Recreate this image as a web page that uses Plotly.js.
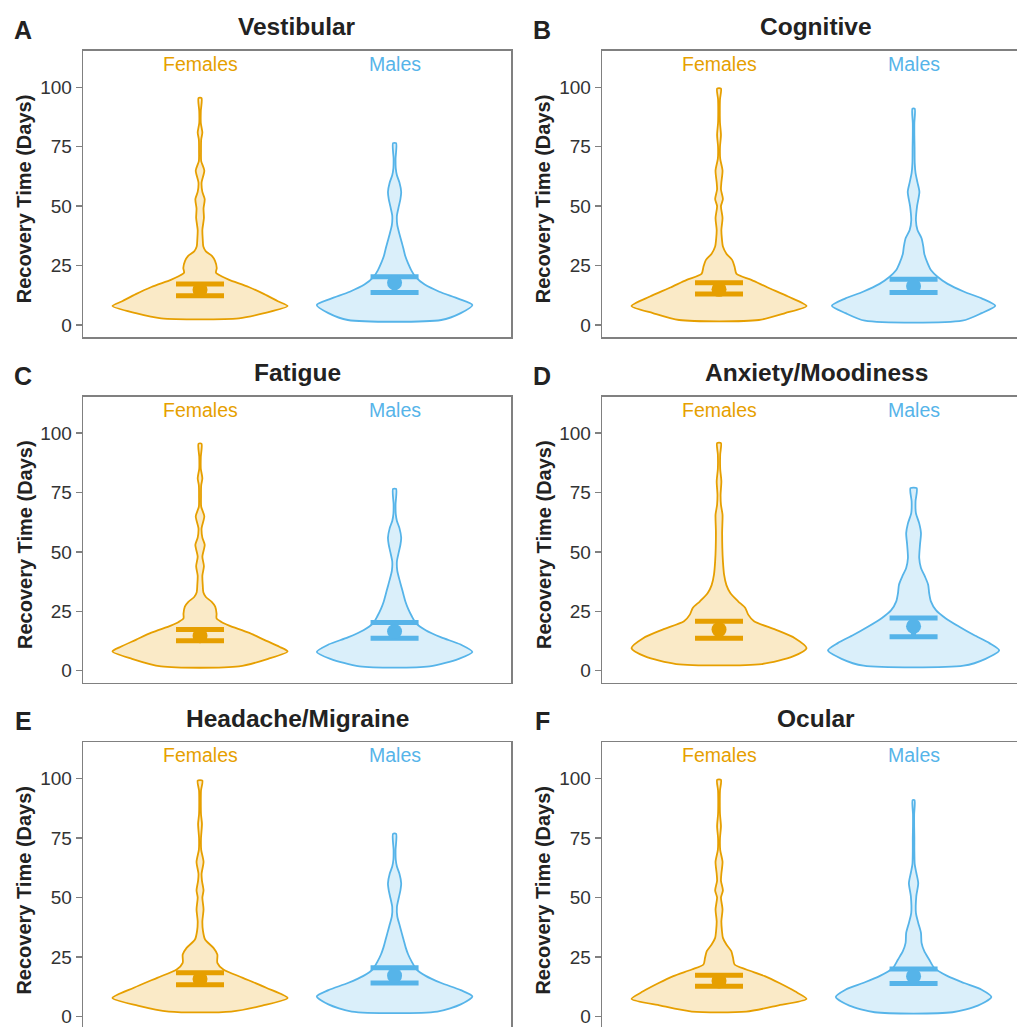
<!DOCTYPE html>
<html>
<head>
<meta charset="utf-8">
<script src="https://cdn.plot.ly/plotly-3.0.1.min.js"></script>
<style>
html,body{margin:0;padding:0;overflow:hidden;background:#fff;}
#chart{width:1035px;height:1035px;}
</style>
</head>
<body>
<div id="chart"></div>
<script>
// ---------- data ----------
const panelTitles = ["Vestibular","Cognitive","Fatigue","Anxiety/Moodiness","Headache/Migraine","Ocular"];
const panelLetters = ["A","B","C","D","E","F"];
const groups = ["Females","Males"];
const yTicks = [0,25,50,75,100];

// violin profiles: recovery days (y) and half-width of density (w, in category units)
const vestibular_f_y = [2.8,5,8,10,13,16,19,20.5,22,24,27,29,31,33,36,40,45,49,53,56,60,65,69,73,78,81,85,90,95.5];
const vestibular_f_w = [0.20,0.33,0.45,0.40,0.33,0.25,0.15,0.11,0.082,0.086,0.077,0.062,0.03,0.017,0.014,0.012,0.02,0.018,0.024,0.012,0.008,0.022,0.006,0.005,0.006,0.012,0.004,0.004,0.008];
const vestibular_m_y = [2.1,5,8.4,11,14,17,20,23,26,29,32,35,38,42,46,50,53,56,60,63,66,70,76.5];
const vestibular_m_w = [0.24,0.34,0.40,0.33,0.23,0.155,0.11,0.086,0.069,0.055,0.046,0.036,0.026,0.014,0.012,0.022,0.03,0.034,0.025,0.012,0.006,0.005,0.008];

const cognitive_f_y = [2.1,5,8,12,15.8,19,21.5,24.5,27.3,30,33,36,40,45,50,53,57,60,65,70,75,80,85,90,95,99.5];
const cognitive_f_w = [0.205,0.34,0.45,0.355,0.25,0.166,0.09,0.08,0.068,0.038,0.02,0.015,0.012,0.018,0.01,0.02,0.01,0.012,0.018,0.006,0.005,0.01,0.005,0.004,0.005,0.01];
const cognitive_m_y = [1.8,5,8.1,11.2,14,17.3,20.3,23,26,30,33,36.5,40,44,50,56,60,64,68,75,80,85,91];
const cognitive_m_w = [0.25,0.35,0.42,0.35,0.26,0.175,0.123,0.09,0.072,0.055,0.05,0.041,0.02,0.012,0.018,0.03,0.02,0.01,0.006,0.005,0.004,0.004,0.006];

const fatigue_f_y = [1.8,5,8.1,10,13,16,19,20.5,22,24,27,29,31,33,36,40,44,48,53,56,60,65,69,73,78,81,85,90,95.5];
const fatigue_f_w = [0.20,0.35,0.45,0.41,0.33,0.25,0.15,0.11,0.085,0.085,0.078,0.06,0.03,0.017,0.014,0.012,0.02,0.012,0.024,0.012,0.008,0.022,0.006,0.005,0.006,0.012,0.004,0.004,0.008];
const fatigue_m_y = [1.8,5,7.9,11,14,17,20,23,26,29,32,35,38,42,46,50,53,56,60,63,66,70,76.5];
const fatigue_m_w = [0.18,0.33,0.40,0.34,0.24,0.16,0.11,0.088,0.07,0.056,0.046,0.036,0.026,0.014,0.012,0.022,0.03,0.034,0.025,0.012,0.006,0.005,0.008];

const anxiety_f_y = [2.8,6,9.5,13.7,17.3,20.8,23.6,26.4,29.2,32.7,36,40.4,46,51.6,58.6,65.6,69.8,74,79.7,85,91,95.8];
const anxiety_f_w = [0.22,0.38,0.45,0.39,0.29,0.18,0.15,0.135,0.098,0.058,0.038,0.026,0.02,0.017,0.016,0.018,0.01,0.008,0.012,0.006,0.006,0.01];
const anxiety_m_y = [2.1,5,8.6,11.6,15,18.5,22,25.5,29.2,32.7,36.2,39.7,43.2,47.4,53,57.9,62,66.3,71.2,76.8];
const anxiety_m_w = [0.257,0.37,0.44,0.39,0.31,0.235,0.166,0.115,0.089,0.08,0.075,0.058,0.038,0.029,0.033,0.038,0.029,0.012,0.01,0.016];

const headache_f_y = [2,4.5,7.7,12,16.2,19.7,22.5,26,28.8,32.3,36,40,45,50,53,57,60,65,70,75,81,85,90,95,99.2];
const headache_f_w = [0.16,0.32,0.45,0.34,0.22,0.12,0.089,0.089,0.069,0.026,0.015,0.012,0.018,0.012,0.018,0.01,0.008,0.018,0.006,0.005,0.01,0.005,0.004,0.005,0.012];
const headache_m_y = [2,5,8.4,11,14,17,20,23,26,29,32,35,38,42,46,50,53,56,60,63,66,70,76.8];
const headache_m_w = [0.22,0.34,0.40,0.34,0.24,0.16,0.11,0.088,0.07,0.057,0.047,0.037,0.027,0.014,0.012,0.022,0.03,0.034,0.025,0.012,0.006,0.005,0.008];

const ocular_f_y = [2,4.5,7.3,10.5,14,16.9,19.7,21.8,24.6,27.4,30.2,33,36,40,45,50,53,57,60,65,70,75,80,85,90,95,99.5];
const ocular_f_w = [0.14,0.30,0.45,0.39,0.31,0.235,0.14,0.08,0.072,0.063,0.038,0.02,0.015,0.012,0.018,0.01,0.02,0.01,0.012,0.018,0.006,0.005,0.01,0.005,0.004,0.005,0.01];
const ocular_m_y = [1.7,4.5,8.1,11.2,14,16.9,20.4,23.9,27.4,30.9,35.1,39.3,43.5,50.6,56,60.4,63.9,70,75,80,85,91];
const ocular_m_w = [0.2,0.33,0.40,0.35,0.26,0.175,0.106,0.08,0.055,0.041,0.038,0.024,0.012,0.014,0.024,0.014,0.006,0.004,0.004,0.003,0.003,0.005];

// mean and 95% CI per panel
const female_mean = [14.8,15.0,14.7,17.3,15.7,14.9];
const female_lo   = [12.3,13.0,12.6,13.7,13.3,12.6];
const female_hi   = [17.25,17.8,17.3,20.8,18.3,17.3];
const male_mean   = [17.8,16.4,16.5,18.7,17.1,16.9];
const male_lo     = [13.7,13.7,13.7,14.3,14.0,13.8];
const male_hi     = [20.3,19.2,20.3,22.2,20.4,19.9];

const profiles = [
  [[vestibular_f_y,vestibular_f_w],[vestibular_m_y,vestibular_m_w]],
  [[cognitive_f_y,cognitive_f_w],[cognitive_m_y,cognitive_m_w]],
  [[fatigue_f_y,fatigue_f_w],[fatigue_m_y,fatigue_m_w]],
  [[anxiety_f_y,anxiety_f_w],[anxiety_m_y,anxiety_m_w]],
  [[headache_f_y,headache_f_w],[headache_m_y,headache_m_w]],
  [[ocular_f_y,ocular_f_w],[ocular_m_y,ocular_m_w]]
];
const stats = [[female_mean,female_lo,female_hi],[male_mean,male_lo,male_hi]];

// ---------- styling / layout ----------
const W = 1035, H = 1035;
const FONT = '"Liberation Sans", Arial, Helvetica, sans-serif';
const lineCol = ['#E69F00','#56B4E9'];
const fillCol = ['rgba(230,159,0,0.22)','rgba(86,180,233,0.22)'];
const colLeft = [83.3, 602.3];
const rowTop = [51, 396.7, 742.3];
const boxW = 428, boxH = 286;
const yRange = [-5.05, 115.3];

const traces = [];
const layout = {
  width: W, height: H,
  margin: {l:0, r:0, t:0, b:0},
  paper_bgcolor: '#ffffff', plot_bgcolor: '#ffffff',
  showlegend: false,
  font: {family: FONT, color: '#333'},
  annotations: []
};

for (let p = 0; p < 6; p++) {
  const col = p % 2, row = Math.floor(p / 2);
  const L = colLeft[col], T = rowTop[row];
  const xa = 'x' + (p === 0 ? '' : p + 1), ya = 'y' + (p === 0 ? '' : p + 1);
  const xk = 'xaxis' + (p === 0 ? '' : p + 1), yk = 'yaxis' + (p === 0 ? '' : p + 1);

  layout[xk] = {
    domain: [L / W, (L + boxW) / W], range: [0.4, 2.6], anchor: ya,
    showgrid: false, zeroline: false, showticklabels: false, ticks: '',
    showline: true, mirror: true, linecolor: '#808080', linewidth: 1.6, fixedrange: true
  };
  layout[yk] = {
    domain: [1 - (T + boxH) / H, 1 - T / H], range: yRange, anchor: xa,
    tickvals: yTicks, ticktext: yTicks.map(String),
    showgrid: false, zeroline: false,
    showline: true, mirror: true, linecolor: '#808080', linewidth: 1.6,
    ticks: 'outside', ticklen: 6, tickwidth: 1.4, tickcolor: '#808080',
    tickfont: {family: FONT, size: 19, color: '#333'}, fixedrange: true
  };

  for (let g = 0; g < 2; g++) {
    const cx = g + 1;
    const ys = profiles[p][g][0], ws = profiles[p][g][1];
    const px = [], py = [];
    for (let i = 0; i < ys.length; i++) { px.push(cx + ws[i]); py.push(ys[i]); }
    for (let i = ys.length - 1; i >= 0; i--) { px.push(cx - ws[i]); py.push(ys[i]); }
    px.push(px[0]); py.push(py[0]);
    traces.push({
      type: 'scatter', mode: 'lines', x: px, y: py, xaxis: xa, yaxis: ya,
      fill: 'toself', fillcolor: fillCol[g],
      line: {color: lineCol[g], width: 1.8, shape: 'spline', smoothing: 0.7},
      hoverinfo: 'skip'
    });
    const m = stats[g][0][p], lo = stats[g][1][p], hi = stats[g][2][p];
    traces.push({
      type: 'scatter', mode: 'markers', x: [cx], y: [m], xaxis: xa, yaxis: ya,
      marker: {color: lineCol[g], size: 15},
      error_y: {type: 'data', symmetric: false, array: [hi - m], arrayminus: [m - lo],
                width: 24, thickness: 5, color: lineCol[g]},
      hoverinfo: 'skip'
    });
    layout.annotations.push({
      xref: xa, yref: ya, x: cx, y: 109.8, text: groups[g], showarrow: false,
      xanchor: 'center', yanchor: 'middle',
      font: {family: FONT, size: 19.5, color: lineCol[g]}
    });
  }

  // panel title
  layout.annotations.push({
    xref: 'paper', yref: 'paper', x: (L + boxW / 2) / W, y: 1 - (T - 24) / H,
    text: '<b>' + panelTitles[p] + '</b>', showarrow: false,
    xanchor: 'center', yanchor: 'middle',
    font: {family: FONT, size: 24.5, color: '#222'}
  });
  // panel letter
  layout.annotations.push({
    xref: 'paper', yref: 'paper', x: (L - 60) / W, y: 1 - (T - 21) / H,
    text: '<b>' + panelLetters[p] + '</b>', showarrow: false,
    xanchor: 'center', yanchor: 'middle',
    font: {family: FONT, size: 25, color: '#222'}
  });
  // y-axis title
  layout.annotations.push({
    xref: 'paper', yref: 'paper', x: (L - 59) / W, y: 1 - (T + 148) / H,
    text: '<b>Recovery Time (Days)</b>', showarrow: false, textangle: -90,
    xanchor: 'center', yanchor: 'middle',
    font: {family: FONT, size: 20, color: '#222'}
  });
}

Plotly.newPlot('chart', traces, layout, {displayModeBar: false, staticPlot: true});
</script>
</body>
</html>
